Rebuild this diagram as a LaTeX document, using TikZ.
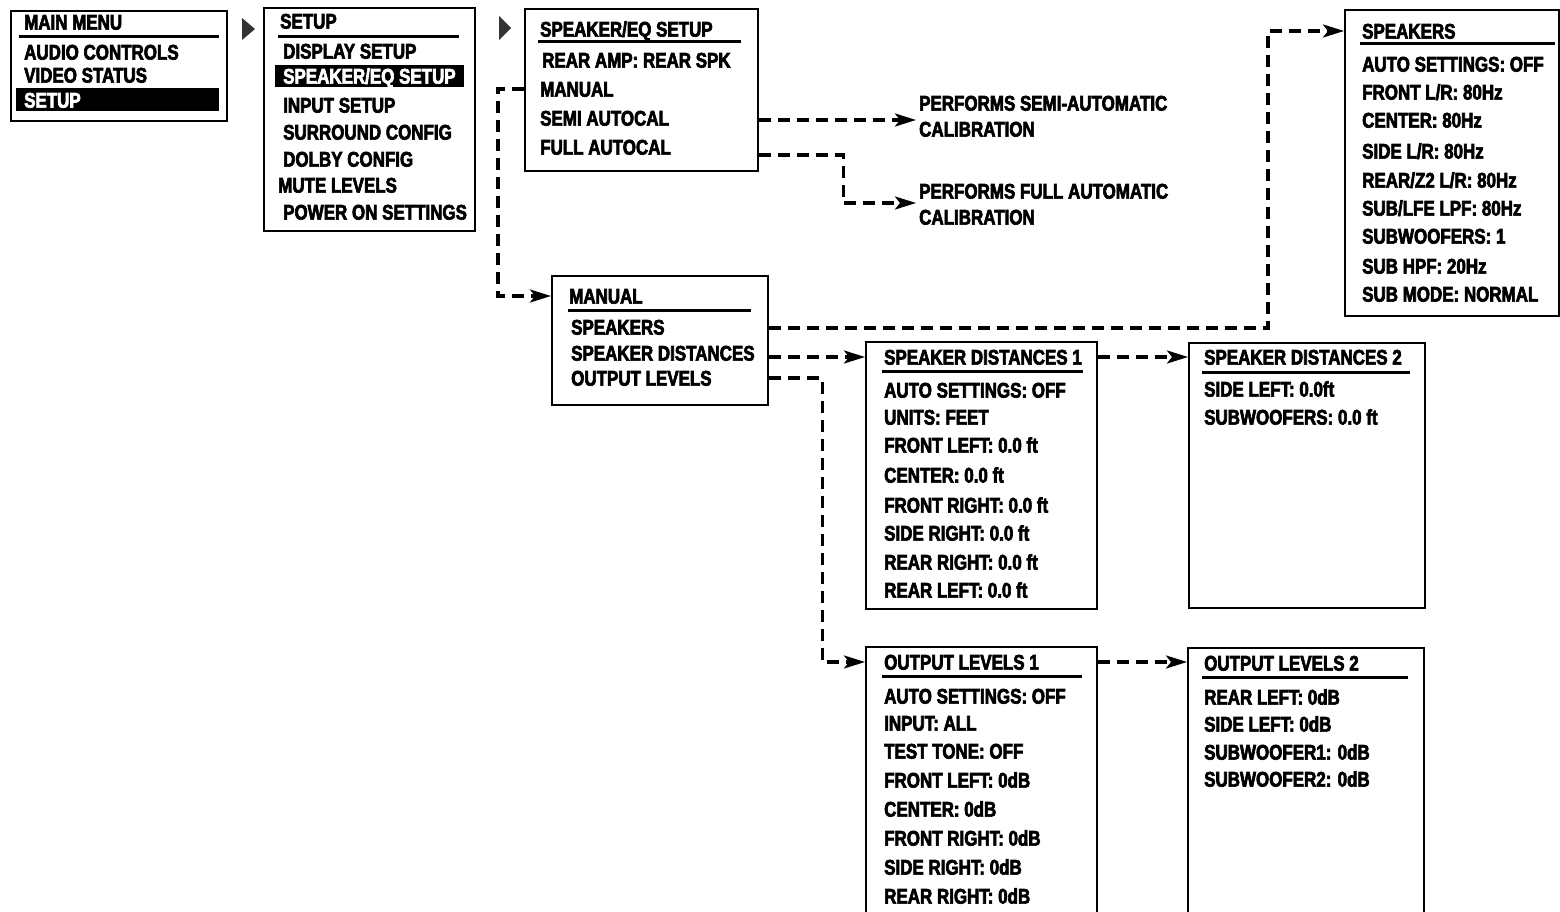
\documentclass[tikz,border=0pt]{standalone}
\usepackage{fontspec}
\setmainfont{Liberation Sans}
\newfontfamily\menufam{Liberation Sans}[FakeStretch=0.8,FakeBold=3]
\newcommand\menufnt{\menufam\bfseries\fontsize{21.2pt}{25pt}\selectfont}
\usetikzlibrary{arrows.meta,calc}
\begin{document}
\begin{tikzpicture}[x=1pt,y=-1pt,
  box/.style={draw, line width=2.4pt, anchor=north west, inner sep=0pt},
  txt/.style={anchor=west, inner sep=0pt, text height=15.2pt, text depth=0pt, font=\menufnt},
  wtxt/.style={txt, text=white},
  hl/.style={fill=black, anchor=north west, inner sep=0pt},
  uline/.style={line width=3pt},
  conn/.style={line width=3.1pt, dash pattern=on 12pt off 7pt, -{Stealth[length=21pt,width=13pt,inset=5pt]}},
  tri/.style={fill=black!80, draw=none}
]
\clip (0,0) rectangle (1560,912);
\fill[white] (0,0) rectangle (1560,912);

% ---------- MAIN MENU ----------
\node[box, minimum width=216pt, minimum height=110pt] (boxA) at (10,10) {};
\node[hl, minimum width=203pt, minimum height=23pt] (sethl) at (16,88) {};
\node[txt] (mmtitle) at (24,22) {MAIN MENU};
\draw[uline] (19,37) -- (219,37);
\node[txt] (mmaudio) at (24,52) {AUDIO CONTROLS};
\node[txt] (mmvideo) at (24,75) {VIDEO STATUS};
\node[wtxt] (mmsetup) at (24,100) {SETUP};

\fill[tri] (242,18) -- (255,29) -- (242,40) -- cycle;

% ---------- SETUP ----------
\node[box, minimum width=211pt, minimum height=223pt] (boxB) at (263,7) {};
\node[hl, minimum width=189pt, minimum height=22pt] (spkhl) at (275,65) {};
\node[txt] (sutitle) at (280,21) {SETUP};
\draw[uline] (278,37) -- (459,37);
\node[txt] (sudisp) at (283,51) {DISPLAY SETUP};
\node[wtxt] (suspk) at (283,76) {SPEAKER/EQ SETUP};
\node[txt] (suinput) at (283,105) {INPUT SETUP};
\node[txt] (susurr) at (283,132) {SURROUND CONFIG};
\node[txt] (sudolby) at (283,159) {DOLBY CONFIG};
\node[txt] (sumute) at (278,185) {MUTE LEVELS};
\node[txt] (supower) at (283,212) {POWER ON SETTINGS};

\fill[tri] (499,16) -- (511,28) -- (499,40) -- cycle;

% ---------- SPEAKER/EQ SETUP ----------
\node[box, minimum width=233pt, minimum height=162pt] (boxC) at (524,8) {};
\node[txt] (eqtitle) at (540,29) {SPEAKER/EQ SETUP};
\draw[uline] (538,42) -- (741,42);
\node[txt] (eqrear) at (542,60) {REAR AMP: REAR SPK};
\node[txt] (eqman) at (540,89) {MANUAL};
\node[txt] (eqsemi) at (540,118) {SEMI AUTOCAL};
\node[txt] (eqfull) at (540,147) {FULL AUTOCAL};

\node[txt] (semiA) at (919,103) {PERFORMS SEMI-AUTOMATIC};
\node[txt] (semiB) at (919,129) {CALIBRATION};
\node[txt] (fullA) at (919,191) {PERFORMS FULL AUTOMATIC};
\node[txt] (fullB) at (919,217) {CALIBRATION};

% ---------- MANUAL ----------
\node[box, minimum width=216pt, minimum height=129pt] (boxD) at (551,275) {};
\node[txt] (mantitle) at (569,296) {MANUAL};
\draw[uline] (568,310) -- (751,310);
\node[txt] (manspk) at (571,327) {SPEAKERS};
\node[txt] (mandist) at (571,353) {SPEAKER DISTANCES};
\node[txt] (manout) at (571,378) {OUTPUT LEVELS};

% ---------- SPEAKERS ----------
\node[box, minimum width=214pt, minimum height=306pt] (boxE) at (1344,9) {};
\node[txt] (sptitle) at (1362,31) {SPEAKERS};
\draw[uline] (1360,44) -- (1555,44);
\node[txt] (sp1) at (1362,64) {AUTO SETTINGS: OFF};
\node[txt] (sp2) at (1362,92) {FRONT L/R: 80Hz};
\node[txt] (sp3) at (1362,120) {CENTER: 80Hz};
\node[txt] (sp4) at (1362,151) {SIDE L/R: 80Hz};
\node[txt] (sp5) at (1362,180) {REAR/Z2 L/R: 80Hz};
\node[txt] (sp6) at (1362,208) {SUB/LFE LPF: 80Hz};
\node[txt] (sp7) at (1362,236) {SUBWOOFERS: 1};
\node[txt] (sp8) at (1362,266) {SUB HPF: 20Hz};
\node[txt] (sp9) at (1362,294) {SUB MODE: NORMAL};

% ---------- SPEAKER DISTANCES 1 ----------
\node[box, minimum width=231pt, minimum height=267pt] (boxF) at (865,341) {};
\node[txt] (sdtitle) at (884,357) {SPEAKER DISTANCES 1};
\draw[uline] (882,371) -- (1083,371);
\node[txt] (sd1) at (884,390) {AUTO SETTINGS: OFF};
\node[txt] (sd2) at (884,417) {UNITS: FEET};
\node[txt] (sd3) at (884,445) {FRONT LEFT: 0.0 ft};
\node[txt] (sd4) at (884,475) {CENTER: 0.0 ft};
\node[txt] (sd5) at (884,505) {FRONT RIGHT: 0.0 ft};
\node[txt] (sd6) at (884,533) {SIDE RIGHT: 0.0 ft};
\node[txt] (sd7) at (884,562) {REAR RIGHT: 0.0 ft};
\node[txt] (sd8) at (884,590) {REAR LEFT: 0.0 ft};

% ---------- SPEAKER DISTANCES 2 ----------
\node[box, minimum width=236pt, minimum height=265pt] (boxG) at (1188,342) {};
\node[txt] (sdbtitle) at (1204,357) {SPEAKER DISTANCES 2};
\draw[uline] (1202,372) -- (1410,372);
\node[txt] (sdb1) at (1204,389) {SIDE LEFT: 0.0ft};
\node[txt] (sdb2) at (1204,417) {SUBWOOFERS: 0.0 ft};

% ---------- OUTPUT LEVELS 1 ----------
\node[box, minimum width=231pt, minimum height=320pt] (boxH) at (865,646) {};
\node[txt] (oltitle) at (884,662) {OUTPUT LEVELS 1};
\draw[uline] (882,676) -- (1082,676);
\node[txt] (ol1) at (884,696) {AUTO SETTINGS: OFF};
\node[txt] (ol2) at (884,723) {INPUT: ALL};
\node[txt] (ol3) at (884,751) {TEST TONE: OFF};
\node[txt] (ol4) at (884,780) {FRONT LEFT: 0dB};
\node[txt] (ol5) at (884,809) {CENTER: 0dB};
\node[txt] (ol6) at (884,838) {FRONT RIGHT: 0dB};
\node[txt] (ol7) at (884,867) {SIDE RIGHT: 0dB};
\node[txt] (ol8) at (884,896) {REAR RIGHT: 0dB};

% ---------- OUTPUT LEVELS 2 ----------
\node[box, minimum width=236pt, minimum height=320pt] (boxI) at (1187,647) {};
\node[txt] (olbtitle) at (1204,663) {OUTPUT LEVELS 2};
\draw[uline] (1202,677) -- (1408,677);
\node[txt] (olb1) at (1204,697) {REAR LEFT: 0dB};
\node[txt] (olb2) at (1204,724) {SIDE LEFT: 0dB};
\node[txt] (olb3) at (1204,752) {SUBWOOFER1: 0dB};
\node[txt] (olb4) at (1204,779) {SUBWOOFER2: 0dB};

% ---------- connectors ----------
\coordinate (semiout) at (boxC.east |- 0,120);
\coordinate (semitip) at ($(semiA.west |- semiout)+(-3,0)$);
\draw[conn] (semiout) -- (semitip);

\coordinate (fullout) at (boxC.east |- 0,155);
\coordinate (fulltip) at ($(fullA.west)+(-3,12)$);
\draw[conn] (fullout) -- ++(84,0) |- (fulltip);

\draw[conn] (boxC.west |- eqman) -- ++(-26,0) |- (boxD.west |- mantitle);

\coordinate (spkcorner) at (1268,328);
\draw[conn] (boxD.east |- spkcorner) -- (spkcorner) |- (boxE.west |- sptitle);

\draw[conn] (boxD.east |- sdtitle) -- (boxF.west |- sdtitle);
\draw[conn] (boxD.east |- manout) -- ++(53,0) |- (boxH.west |- oltitle);
\draw[conn] (boxF.east |- sdtitle) -- (boxG.west |- sdtitle);
\draw[conn] (boxH.east |- oltitle) -- (boxI.west |- oltitle);
\end{tikzpicture}
\end{document}
